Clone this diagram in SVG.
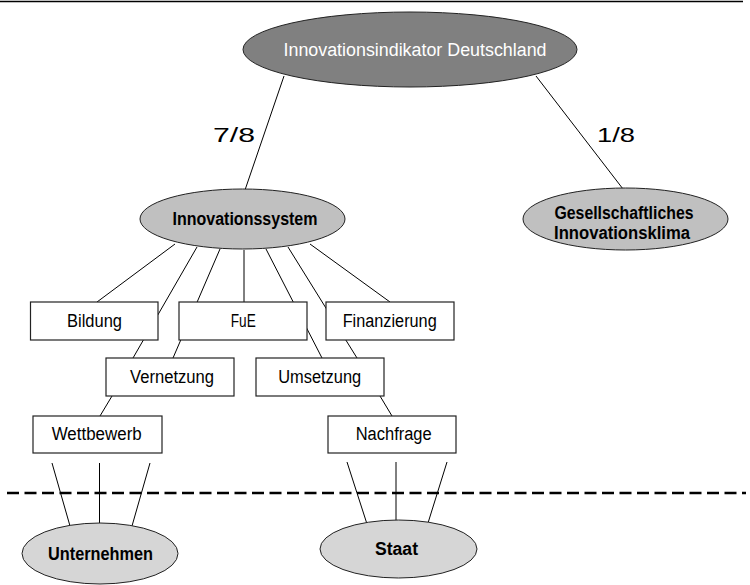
<svg xmlns="http://www.w3.org/2000/svg" width="750" height="585" viewBox="0 0 750 585">
<style>
.bg{fill:#ffffff}
.con line{stroke:#000;stroke-width:1;fill:none}
.box{fill:#fff;stroke:#222;stroke-width:1.2}
.ell{stroke:#222;stroke-width:1}
.lbl{font-family:"Liberation Sans",Arial,sans-serif;font-size:18px;fill:#000;text-anchor:middle}
.b{font-weight:bold}
.frac{font-family:"Liberation Sans",Arial,sans-serif;font-size:21px;fill:#000;text-anchor:middle}
</style>
<rect class="bg" x="0" y="0" width="750" height="585"/>
<line x1="0" y1="1.5" x2="743" y2="1.5" stroke="#000" stroke-width="1.5"/>
<line x1="7" y1="493" x2="746" y2="493" stroke="#000" stroke-width="2.5" stroke-dasharray="12 5.5"/>
<g id="connectors" class="con">
<line x1="284" y1="76" x2="245" y2="190"/>
<line x1="536" y1="76" x2="623" y2="189"/>
<line x1="175" y1="244" x2="97" y2="302"/>
<line x1="197" y1="247" x2="133" y2="358"/>
<line x1="220" y1="249" x2="173" y2="358"/>
<line x1="244" y1="250" x2="244" y2="302"/>
<line x1="266" y1="249" x2="322" y2="358"/>
<line x1="288" y1="247" x2="357" y2="358"/>
<line x1="310" y1="244" x2="390" y2="302"/>
<line x1="112" y1="396" x2="100" y2="416"/>
<line x1="380" y1="396" x2="392" y2="416"/>
<line x1="52" y1="463" x2="70" y2="526"/>
<line x1="99.5" y1="463" x2="99.5" y2="524"/>
<line x1="150" y1="463" x2="132" y2="526"/>
<line x1="347" y1="462" x2="367" y2="524"/>
<line x1="396" y1="462" x2="396" y2="521"/>
<line x1="447" y1="462" x2="428" y2="523"/>
</g>
<text class="frac" x="234" y="142" textLength="42" lengthAdjust="spacingAndGlyphs">7/8</text>
<text class="frac" x="616" y="142" textLength="38" lengthAdjust="spacingAndGlyphs">1/8</text>
<g id="n-top">
<ellipse class="ell" cx="410" cy="49.5" rx="167" ry="37.5" fill="#808080"/>
<text class="lbl" x="415" y="56" style="fill:#fff" textLength="263" lengthAdjust="spacingAndGlyphs">Innovationsindikator Deutschland</text>
</g>
<g id="n-system">
<ellipse class="ell" cx="242.5" cy="219" rx="102.5" ry="30" fill="#c0c0c0"/>
<text class="lbl b" x="245" y="225" textLength="145" lengthAdjust="spacingAndGlyphs">Innovationssystem</text>
</g>
<g id="n-klima">
<ellipse class="ell" cx="625.5" cy="219" rx="102.5" ry="31" fill="#c0c0c0"/>
<text class="lbl b" x="624" y="219" textLength="139" lengthAdjust="spacingAndGlyphs">Gesellschaftliches</text>
<text class="lbl b" x="622" y="239" textLength="136" lengthAdjust="spacingAndGlyphs">Innovationsklima</text>
</g>
<g id="n-bildung">
<rect class="box" x="30.5" y="302" width="127.5" height="38"/>
<text class="lbl" x="94.5" y="327" textLength="55" lengthAdjust="spacingAndGlyphs">Bildung</text>
</g>
<g id="n-fue">
<rect class="box" x="179" y="302" width="128" height="38"/>
<text class="lbl" x="243.3" y="327" textLength="25" lengthAdjust="spacingAndGlyphs">FuE</text>
</g>
<g id="n-finanzierung">
<rect class="box" x="326" y="302" width="128" height="38"/>
<text class="lbl" x="389.7" y="327" textLength="94" lengthAdjust="spacingAndGlyphs">Finanzierung</text>
</g>
<g id="n-vernetzung">
<rect class="box" x="106" y="358" width="128" height="38"/>
<text class="lbl" x="172" y="383" textLength="84" lengthAdjust="spacingAndGlyphs">Vernetzung</text>
</g>
<g id="n-umsetzung">
<rect class="box" x="256" y="358" width="128" height="38"/>
<text class="lbl" x="319.7" y="383" textLength="83" lengthAdjust="spacingAndGlyphs">Umsetzung</text>
</g>
<g id="n-wettbewerb">
<rect class="box" x="33" y="416" width="129" height="37"/>
<text class="lbl" x="96.7" y="440" textLength="90" lengthAdjust="spacingAndGlyphs">Wettbewerb</text>
</g>
<g id="n-nachfrage">
<rect class="box" x="328" y="416" width="128" height="37"/>
<text class="lbl" x="393.7" y="440" textLength="76" lengthAdjust="spacingAndGlyphs">Nachfrage</text>
</g>
<g id="n-unternehmen">
<ellipse class="ell" cx="100" cy="553.5" rx="78" ry="30.5" fill="#d6d6d6"/>
<text class="lbl b" x="100.5" y="560" textLength="105" lengthAdjust="spacingAndGlyphs">Unternehmen</text>
</g>
<g id="n-staat">
<ellipse class="ell" cx="398.5" cy="549" rx="78.5" ry="29" fill="#d6d6d6"/>
<text class="lbl b" x="396.5" y="555" textLength="43" lengthAdjust="spacingAndGlyphs">Staat</text>
</g>
</svg>
